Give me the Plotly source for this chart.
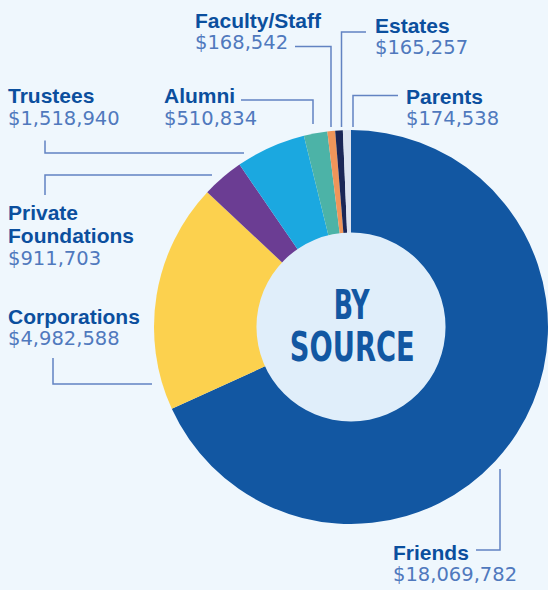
import plotly.graph_objects as go

W, H = 548, 590

sources = ["Friends", "Corporations", "Private Foundations", "Trustees",
           "Alumni", "Faculty/Staff", "Estates", "Parents"]
amounts = [18069782, 4982588, 911703, 1518940, 510834, 168542, 165257, 174538]
colors = ["#1257a2", "#fcd14e", "#6b3d93", "#1ba8e0",
          "#4cb3a7", "#f0955a", "#1b2657", "#dde3f0"]

BG = "#eff7fd"
NAME_C = "#0b4f9e"
VALUE_C = "#5079bd"
LINE_C = "#6283c2"

# label placement (px from top-left): left x, y of first line
label_pos = {
    "Faculty/Staff": (193, 19),
    "Estates": (373, 24),
    "Trustees": (6, 94.5),
    "Alumni": (162, 94.5),
    "Parents": (404, 95),
    "Private Foundations": (6, 211),
    "Corporations": (6, 315),
    "Friends": (391, 551),
}
# leader lines as px polylines
leaders = {
    "Faculty/Staff": [(295, 46.5), (331, 46.5), (331, 127)],
    "Estates": [(366, 32), (341.5, 32), (341.5, 127)],
    "Parents": [(398, 95.5), (353, 95.5), (353, 127)],
    "Alumni": [(241, 100), (313, 100), (313, 124)],
    "Trustees": [(45, 140.5), (45, 153), (244, 153)],
    "Private Foundations": [(45, 195), (45, 175), (212, 175)],
    "Corporations": [(53, 358), (53, 384), (152, 384)],
    "Friends": [(476, 550), (500, 550), (500, 469)],
}


def px(x, y):
    return x / W, 1 - y / H


def dom(cx, cy, r):
    return dict(x=[(cx - r) / W, min(1, (cx + r) / W)],
                y=[1 - (cy + r) / H, 1 - (cy - r) / H])


CX, CY = 351, 327
fig = go.Figure()
fig.add_trace(go.Pie(labels=sources, values=amounts, sort=False,
                     direction="clockwise", rotation=0, textinfo="none",
                     marker=dict(colors=colors, line=dict(width=0)),
                     domain=dom(CX, CY, 197), hoverinfo="skip", showlegend=False))
# center disc
fig.add_trace(go.Pie(labels=["center"], values=[1], sort=False, textinfo="none",
                     marker=dict(colors=["#e0eefa"], line=dict(width=0)),
                     domain=dom(CX, CY, 94.5), hoverinfo="skip", showlegend=False))

annotations = []
for name, amt in zip(sources, amounts):
    x0, y0 = label_pos[name]
    lines = name.split(" ") if name == "Private Foundations" else [name]
    y = y0
    for ln in lines:
        xx, yy = px(x0, y + 1)
        annotations.append(dict(x=xx, y=yy, xref="paper", yref="paper",
                                text=f"<b>{ln}</b>", showarrow=False,
                                xanchor="left", yanchor="middle",
                                font=dict(family="Liberation Sans, Arial, sans-serif",
                                          size=21, color=NAME_C)))
        y += 23.7
    xx, yy = px(x0, y)
    annotations.append(dict(x=xx, y=yy, xref="paper", yref="paper",
                            text=f"${amt:,}", showarrow=False,
                            xanchor="left", yanchor="middle",
                            font=dict(family="DejaVu Sans, sans-serif",
                                      size=19.5, color=VALUE_C)))

for txt, ty in [("BY", 303.5), ("SOURCE", 346)]:
    xx, yy = px(352, ty + 1)
    annotations.append(dict(x=xx, y=yy, xref="paper", yref="paper", text=f"<b>{txt}</b>",
                            showarrow=False, xanchor="center", yanchor="middle",
                            font=dict(family="DejaVu Sans Condensed, sans-serif",
                                      size=40, color="#1257a2")))

shapes = []
for name, pts in leaders.items():
    path = "M " + " L ".join(f"{px(x, y)[0]:.5f},{px(x, y)[1]:.5f}" for x, y in pts)
    shapes.append(dict(type="path", path=path, xref="paper", yref="paper",
                       line=dict(color=LINE_C, width=1.5)))

fig.update_layout(width=W, height=H, margin=dict(l=0, r=0, t=0, b=0),
                  paper_bgcolor=BG, plot_bgcolor=BG,
                  annotations=annotations, shapes=shapes)

# drop the default page margin and squeeze the centre title like a condensed face
post = """
document.body.style.margin = '0';
document.body.style.overflow = 'hidden';
var gd = document.getElementById('{plot_id}');
gd.querySelectorAll('text.annotation-text').forEach(function (t) {
  var w = {'BY': 36, 'SOURCE': 125}[t.textContent];
  if (w) { t.setAttribute('textLength', w); t.setAttribute('lengthAdjust', 'spacingAndGlyphs'); }
});
"""
fig.write_html("out.html", post_script=post, config={"displayModeBar": False})
